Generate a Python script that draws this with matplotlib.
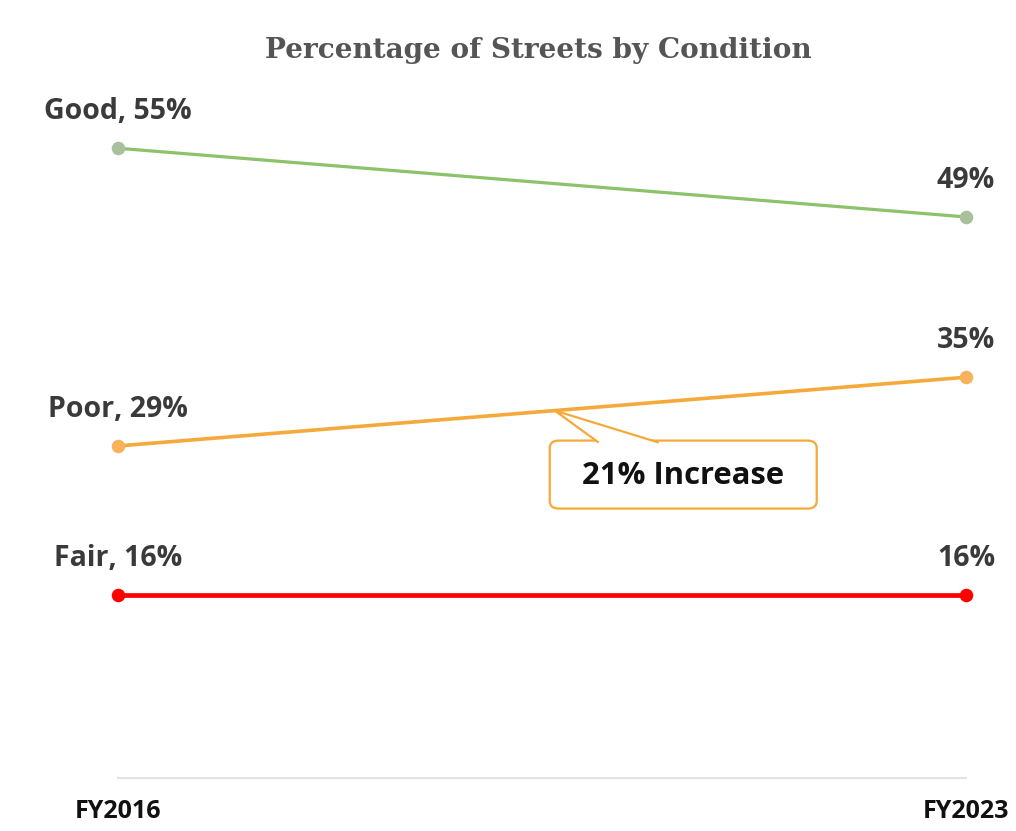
import matplotlib
matplotlib.use("Agg")
import matplotlib.pyplot as plt
from matplotlib.patches import FancyBboxPatch, PathPatch
from matplotlib.path import Path
import numpy as np

# Data
years = ["FY2016", "FY2023"]
conditions = ["Good", "Poor", "Fair"]
good = [55, 49]
poor = [29, 35]
fair = [16, 16]
callout_text = "21% Increase"

colors = {"Good": "#8cc26a", "Poor": "#f5a93a", "Fair": "#ff0000"}
marker_colors = {"Good": "#a9c09c", "Poor": "#f7b25c", "Fair": "#ff0000"}
widths = {"Good": 2.3, "Poor": 2.6, "Fair": 3.4}
series = {"Good": good, "Poor": poor, "Fair": fair}

# Open Sans Bold at regular width
SANS = dict(fontfamily="Open Sans", fontweight=700, fontstretch="semi-expanded")

W, H = 1016, 831
fig = plt.figure(figsize=(W / 100, H / 100), dpi=100)
fig.patch.set_facecolor("white")

left_px, right_px, base_px = 118, 966, 778
px_per_unit = 11.45
ytop = 60
ax = fig.add_axes([left_px / W, 1 - base_px / H,
                   (right_px - left_px) / W, ytop * px_per_unit / H])
ax.set_xlim(0, 1)
ax.set_ylim(0, ytop)
for s in ["top", "right", "left"]:
    ax.spines[s].set_visible(False)
ax.spines["bottom"].set_color("#e3e3e3")
ax.spines["bottom"].set_linewidth(1.5)
ax.set_yticks([])
ax.set_xticks([0, 1])
ax.set_xticklabels(years, fontsize=18, color="#111111", **SANS)
ax.tick_params(axis="x", length=0, pad=15)

xs = np.array([0, 1])
lab_font = dict(fontsize=20.5, color="#3a3a3a", ha="center", va="bottom", **SANS)
for name in conditions:
    vals = series[name]
    ax.plot(xs, vals, color=colors[name], lw=widths[name], zorder=3,
            solid_capstyle="round", clip_on=False)
    ax.scatter(xs, vals, s=95, color=marker_colors[name], zorder=4,
               clip_on=False, linewidths=0)
    ax.annotate(f"{name}, {vals[0]}%", (0, vals[0]), xytext=(0, 16),
                textcoords="offset points", **lab_font)
    ax.annotate(f"{vals[1]}%", (1, vals[1]), xytext=(0, 16),
                textcoords="offset points", **lab_font)

fig.text(0.530, 1 - 50 / H, "Percentage of Streets by Condition",
         fontfamily="DejaVu Serif", fontweight="bold", fontsize=20.1,
         color="#555555", ha="center", va="center")

# Callout pointing at the Poor line
tip_x = 0.515
tip_y = poor[0] + (poor[1] - poor[0]) * tip_x
fig.canvas.draw()
tx, ty = ax.transData.transform((tip_x, tip_y))
to_fig = fig.transFigure.inverted()


def fpt(dx, dy):
    return to_fig.transform((tx + dx, ty + dy))


box_l, box_r, box_t, box_b = -5, 262, -30, -98
(bx0, by0) = fpt(box_l, box_b)
(bx1, by1) = fpt(box_r, box_t)
box = FancyBboxPatch((bx0, by0), bx1 - bx0, by1 - by0,
                     boxstyle="round,pad=0,rounding_size=0.009",
                     transform=fig.transFigure, facecolor="white",
                     edgecolor=colors["Poor"], linewidth=1.6, zorder=5)
fig.add_artist(box)
wedge = Path([fpt(44, box_t - 2), fpt(0, 0), fpt(104, box_t - 2)],
             [Path.MOVETO, Path.LINETO, Path.LINETO])
fig.add_artist(PathPatch(wedge, transform=fig.transFigure, facecolor="white",
                         edgecolor=colors["Poor"], linewidth=1.6, zorder=6))
cx, cy = fpt((box_l + box_r) / 2, (box_t + box_b) / 2)
fig.text(cx, cy - 0.002, callout_text, fontsize=22.3, color="#111111",
         ha="center", va="center", zorder=7, **SANS)

fig.savefig("out.png", dpi=100, facecolor="white")
